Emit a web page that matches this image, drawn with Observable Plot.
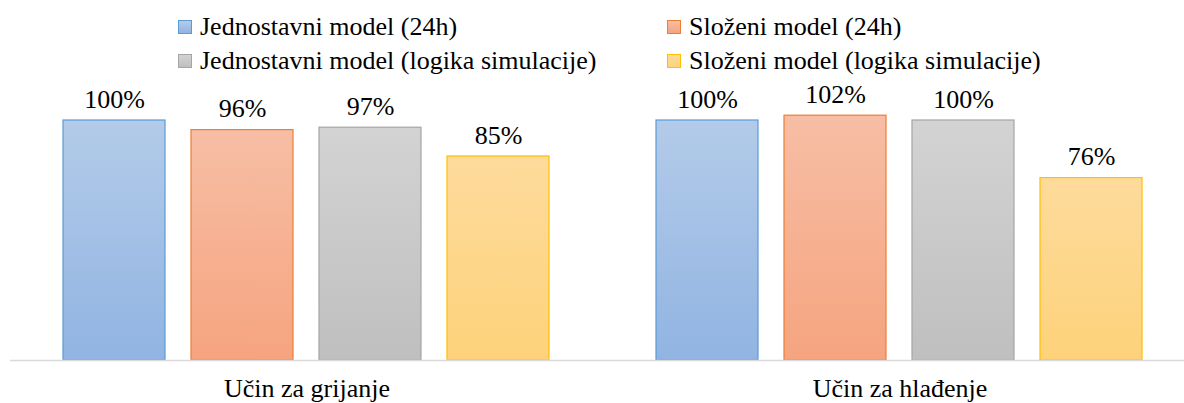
<!DOCTYPE html>
<html>
<head>
<meta charset="utf-8">
<script src="https://cdn.jsdelivr.net/npm/d3@7"></script>
<script src="https://cdn.jsdelivr.net/npm/@observablehq/plot@0.6"></script>
<style>
  html, body { margin: 0; padding: 0; background: #fff; overflow: hidden; }
  #wrap { position: relative; width: 1184px; height: 403px; font-family: "Liberation Serif", "Times New Roman", serif; }
  #legend { position: absolute; top: 10px; left: 0; width: 1184px; font-size: 26px; color: #000; }
  .row { position: relative; height: 34px; line-height: 34px; }
  .item { position: absolute; top: 0; display: flex; align-items: center; height: 34px; white-space: nowrap; }
  .sw { width: 12px; height: 12px; border: 1px solid; margin-right: 8px; flex: none; }
  svg { display: block; }
  svg text { font-family: "Liberation Serif", "Times New Roman", serif; }
</style>
</head>
<body>
<div id="wrap"></div>
<script>
// ---- data ----
const groups = ["Učin za grijanje", "Učin za hlađenje"];
const series = [
  "Jednostavni model (24h)",
  "Složeni model (24h)",
  "Jednostavni model (logika simulacije)",
  "Složeni model (logika simulacije)"
];
const jednostavni24 = [1.00, 1.00];
const slozeni24 = [0.96, 1.02];
const jednostavniLogika = [0.97, 1.00];
const slozeniLogika = [0.85, 0.76];
const valuesBySeries = [jednostavni24, slozeni24, jednostavniLogika, slozeniLogika];

// ---- styles ----
const gradTop = ["#b3cbe9", "#f7bea5", "#d3d3d3", "#fedb9c"];
const gradBottom = ["#91b4e2", "#f5a47f", "#bfbfbf", "#fdd27a"];
const strokes = ["#5b9bd5", "#ed7d31", "#a5a5a5", "#ffc000"];

const table = [];
series.forEach((s, i) => groups.forEach((g, j) => table.push({group: g, series: s, idx: i, value: valuesBySeries[i][j]})));

const font = '"Liberation Serif", "Times New Roman", serif';

const chart = Plot.plot({
  width: 1184,
  height: 403,
  marginTop: 0,
  marginBottom: 43,
  marginLeft: 10,
  marginRight: 0,
  style: {fontFamily: font, fontSize: "26px", color: "#000", background: "#fff"},
  fx: {domain: groups, range: [10, 1196], padding: 0, axis: null},
  x: {domain: series, paddingInner: 0.2, paddingOuter: 0.4075, axis: null},
  y: {domain: [0, 1.5], axis: null},
  marks: [
    ...series.map((s, i) => Plot.barY(table.filter(d => d.idx === i), {
      fx: "group", x: "series", y: "value",
      fill: `url(#grad${i})`, stroke: strokes[i], strokeWidth: 1.2
    })),
    Plot.ruleY([0], {stroke: "#d9d9d9", strokeWidth: 1.5}),
    Plot.text(table, {
      fx: "group", x: "series", y: "value",
      text: d => Math.round(d.value * 100) + "%",
      dy: -21, fontSize: 26, fill: "#000", fontFamily: font
    }),
    Plot.text(groups, {
      fx: d => d, text: d => d, frameAnchor: "bottom", dy: 36, fontSize: 26, fill: "#000", fontFamily: font
    })
  ]
});

// gradients
const ns = "http://www.w3.org/2000/svg";
const defs = document.createElementNS(ns, "defs");
series.forEach((s, i) => {
  const lg = document.createElementNS(ns, "linearGradient");
  lg.setAttribute("id", "grad" + i);
  lg.setAttribute("x1", "0"); lg.setAttribute("y1", "0");
  lg.setAttribute("x2", "0"); lg.setAttribute("y2", "1");
  [[0, gradTop[i]], [1, gradBottom[i]]].forEach(([o, c]) => {
    const st = document.createElementNS(ns, "stop");
    st.setAttribute("offset", o);
    st.setAttribute("stop-color", c);
    lg.appendChild(st);
  });
  defs.appendChild(lg);
});
chart.insertBefore(defs, chart.firstChild);

const wrap = document.getElementById("wrap");
wrap.appendChild(chart);

// legend
const legend = document.createElement("div");
legend.id = "legend";
const colLeft = [178, 667];
[[0, 1], [2, 3]].forEach(rowIdx => {
  const row = document.createElement("div");
  row.className = "row";
  rowIdx.forEach((si, c) => {
    const it = document.createElement("div");
    it.className = "item";
    it.style.left = colLeft[c] + "px";
    const sw = document.createElement("span");
    sw.className = "sw";
    sw.style.background = `linear-gradient(${gradTop[si]}, ${gradBottom[si]})`;
    sw.style.borderColor = strokes[si];
    const tx = document.createElement("span");
    tx.textContent = series[si];
    it.appendChild(sw); it.appendChild(tx);
    row.appendChild(it);
  });
  legend.appendChild(row);
});
wrap.appendChild(legend);
</script>
</body>
</html>
